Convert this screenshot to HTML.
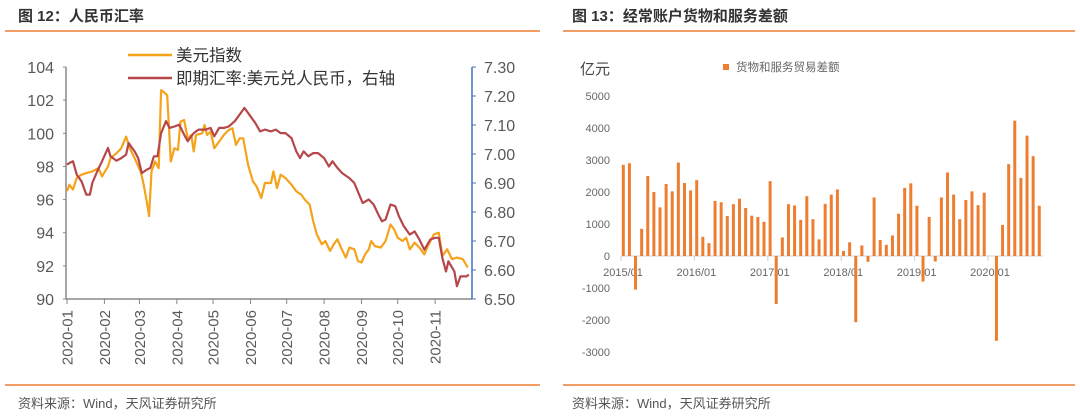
<!DOCTYPE html>
<html><head><meta charset="utf-8">
<style>
body{margin:0;background:#fff;width:1080px;height:415px;overflow:hidden;}
svg text{font-family:"Liberation Sans","Noto Sans CJK SC",sans-serif;}
</style></head>
<body>
<svg id="s" width="1080" height="415" xmlns="http://www.w3.org/2000/svg">
<text x="18" y="21" font-size="15" font-weight="bold" fill="#333">图 12：人民币汇率</text>
<line x1="5" y1="31" x2="540" y2="31" stroke="#ED7D31" stroke-width="1.5"/>
<line x1="5" y1="385" x2="540" y2="385" stroke="#ED7D31" stroke-width="1.5"/>
<text x="18" y="408" font-size="13" fill="#555">资料来源：Wind，天风证券研究所</text>
<text x="572" y="21" font-size="15" font-weight="bold" fill="#333">图 13：经常账户货物和服务差额</text>
<line x1="563" y1="31" x2="1075" y2="31" stroke="#ED7D31" stroke-width="1.5"/>
<line x1="563" y1="385" x2="1075" y2="385" stroke="#ED7D31" stroke-width="1.5"/>
<text x="572" y="408" font-size="13" fill="#555">资料来源：Wind，天风证券研究所</text>
<g id="left"></g>
<g id="right"></g>
</svg>
<script>
// ---- left chart data ----
const monthLabels=["2020-01","2020-02","2020-03","2020-04","2020-05","2020-06","2020-07","2020-08","2020-09","2020-10","2020-11"];
const monthStartDays=[0,31,60,91,121,152,182,213,244,274,305];
const leftTicks=[90,92,94,96,98,100,102,104];
const rightTicks=[6.50,6.60,6.70,6.80,6.90,7.00,7.10,7.20,7.30];
const dxyDays=[0,2,5,8,12,16,21,26,29,34,36,41,45,49,52,56,61,63,66,68,70,73,76,78,80,83,86,89,92,94,97,100,103,105,107,112,114,116,119,122,126,130,134,137,140,143,146,150,154,157,161,164,169,171,174,177,181,186,190,194,197,201,204,207,211,214,218,221,224,227,231,234,238,241,244,247,250,252,255,260,264,268,271,274,278,281,284,288,292,296,299,304,308,311,315,319,323,328,332];
const dxyVals=[96.5,96.9,96.6,97.3,97.5,97.6,97.7,97.9,97.4,98.0,98.5,98.8,99.1,99.8,99.1,98.5,97.7,97.1,95.9,95.0,97.7,98.3,97.9,102.6,102.5,102.3,98.3,99.1,99.0,100.7,100.8,99.7,99.9,98.9,99.9,100.0,100.5,99.9,100.1,99.1,99.5,99.9,100.2,100.3,99.3,99.7,99.7,98.1,97.1,96.8,96.1,97.0,97.0,97.7,96.7,97.5,97.3,96.9,96.5,96.3,96.0,95.7,94.7,93.9,93.3,93.5,92.9,93.3,93.6,93.1,92.5,93.1,93.0,92.3,92.2,92.7,93.0,93.5,93.2,93.1,93.5,94.5,94.2,93.7,93.5,93.7,93.0,93.4,93.1,92.7,93.2,93.9,94.0,92.6,93.0,92.4,92.5,92.4,91.9];
const cnyDays=[0,2,5,8,12,16,19,21,25,29,34,36,41,45,49,51,56,59,62,66,69,72,75,78,82,85,89,93,97,100,105,109,115,119,122,126,130,134,139,143,147,152,156,160,164,169,173,177,181,186,190,193,196,200,204,208,213,217,220,224,228,234,238,242,245,250,254,258,261,264,268,272,275,279,284,288,292,296,301,305,308,311,314,316,321,323,326,331,333];
const cnyVals=[6.963,6.969,6.975,6.929,6.906,6.860,6.860,6.900,6.940,6.975,7.021,6.992,6.977,6.986,6.998,7.038,7.009,6.986,6.934,6.946,6.952,6.992,6.992,7.072,7.113,7.090,7.095,7.101,7.067,7.044,7.072,7.084,7.084,7.090,7.061,7.090,7.090,7.095,7.113,7.136,7.159,7.130,7.107,7.078,7.084,7.078,7.084,7.072,7.072,7.055,7.009,6.986,7.009,6.992,7.003,7.003,6.986,6.957,6.975,6.952,6.934,6.917,6.900,6.860,6.831,6.843,6.826,6.791,6.768,6.774,6.826,6.820,6.785,6.751,6.722,6.733,6.705,6.670,6.705,6.711,6.711,6.641,6.595,6.630,6.595,6.544,6.578,6.578,6.584];
// ---- right chart data ----
const yearLabels=["2015/01","2016/01","2017/01","2018/01","2019/01","2020/01"];
const barTicks=[-3000,-2000,-1000,0,1000,2000,3000,4000,5000];
const tradeVals=[2850,2900,-1050,850,2500,2000,1520,2250,2020,2920,2280,2050,2370,600,400,1720,1680,1250,1620,1790,1500,1260,1220,1070,2340,-1500,580,1620,1580,1130,1870,1150,520,1630,1920,2080,160,430,-2070,330,-180,1830,500,350,640,1320,2130,2270,1570,-800,1220,-170,1830,2610,1920,1150,1750,2020,1590,1980,0,-2650,970,2870,4230,2440,3760,3120,1570];

const NS="http://www.w3.org/2000/svg";
function mk(parent,tag,attrs,txt){const e=document.createElementNS(NS,tag);for(const k in attrs)e.setAttribute(k,attrs[k]);if(txt!==undefined)e.textContent=txt;parent.appendChild(e);return e;}

// left axes
const L=document.getElementById('left');
const xDay=d=>67+d*1.207;
const yL=v=>299-(v-90)*(232/14);
const yR=v=>299-(v-6.5)*(232/0.8);
let e;
e=mk(L,'line',{x1:66,y1:67,x2:66,y2:299,stroke:'#888','stroke-width':1.5});


e=mk(L,'line',{x1:66,y1:299,x2:472,y2:299,stroke:'#888','stroke-width':1.5});


e=mk(L,'line',{x1:472,y1:67,x2:472,y2:299,stroke:'#4472C4','stroke-width':1.5});


leftTicks.forEach(v=>{
  mk(L,'line',{x1:63,y1:yL(v),x2:66,y2:yL(v),stroke:'#888'});
  e=mk(L,'text',{x:54,y:yL(v)+6,'font-size':16,fill:'#595959','text-anchor':'end'},String(v));
  
  
});
rightTicks.forEach(v=>{
  mk(L,'line',{x1:472,y1:yR(v),x2:476,y2:yR(v),stroke:'#4472C4'});
  e=mk(L,'text',{x:484,y:yR(v)+6,'font-size':16,fill:'#595959'},v.toFixed(2));
  
  
});
monthStartDays.forEach((d,i)=>{
  const x=xDay(d);
  mk(L,'line',{x1:x,y1:299,x2:x,y2:304,stroke:'#888'});
  e=mk(L,'text',{x:0,y:0,'font-size':15,fill:'#595959','text-anchor':'end',transform:`translate(${x+5.5},${310}) rotate(-90)`},monthLabels[i]);
  
  
});
e=mk(L,'polyline',{points:dxyDays.map((d,i)=>xDay(d).toFixed(1)+','+yL(dxyVals[i]).toFixed(1)).join(' '),fill:'none',stroke:'#F5A31A','stroke-width':2.2,'stroke-linejoin':'round'});


e=mk(L,'polyline',{points:cnyDays.map((d,i)=>xDay(d).toFixed(1)+','+yR(cnyVals[i]).toFixed(1)).join(' '),fill:'none',stroke:'#B5474B','stroke-width':2.2,'stroke-linejoin':'round'});


e=mk(L,'g',{});


mk(e,'line',{x1:128,y1:55,x2:172,y2:55,stroke:'#F5A31A','stroke-width':2.5});
mk(e,'text',{x:176,y:61,'font-size':16.5,fill:'#333'},'美元指数');
e=mk(L,'g',{});


mk(e,'line',{x1:128,y1:78,x2:172,y2:78,stroke:'#B5474B','stroke-width':2.5});
mk(e,'text',{x:176,y:84,'font-size':16.5,fill:'#333'},'即期汇率:美元兑人民币，右轴');

// right chart
const R=document.getElementById('right');
const xM=i=>623.3+i*6.117;
const yB=v=>256-v*0.032;
barTicks.forEach(v=>{
  e=mk(R,'text',{x:610,y:yB(v)+4,'font-size':11,fill:'#666','text-anchor':'end'},String(v));
  
  
});
e=mk(R,'line',{x1:621,y1:256,x2:1043,y2:256,stroke:'#d0d0d0','stroke-width':1});


yearLabels.forEach((t,i)=>{
  const x=621+i*73.4;
  mk(R,'line',{x1:x,y1:256,x2:x,y2:261,stroke:'#d0d0d0'});
  e=mk(R,'text',{x:x+2,y:276,'font-size':11,fill:'#666','text-anchor':'middle'},t);
  
  
});
tradeVals.forEach((v,i)=>{
  const y0=yB(Math.max(v,0)),h=Math.abs(yB(v)-yB(0));
  e=mk(R,'rect',{x:xM(i)-1.5,y:y0,width:3,height:h,fill:'#ED7D31'});
  
  
});
e=mk(R,'text',{x:580,y:74,'font-size':15,fill:'#444'},'亿元');


e=mk(R,'g',{});


mk(e,'rect',{x:723,y:64,width:6,height:6,fill:'#ED7D31'});
mk(e,'text',{x:736,y:71,'font-size':11.5,fill:'#666'},'货物和服务贸易差额');
</script>
</body></html>
